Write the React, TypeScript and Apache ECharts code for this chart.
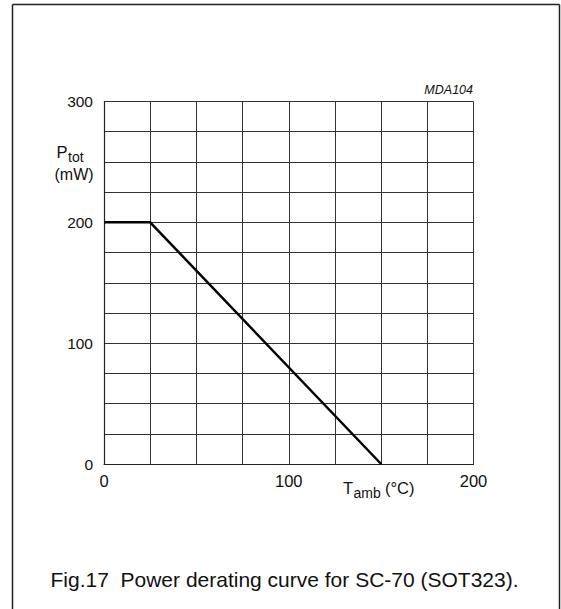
import React, { useEffect, useRef } from "react";
import * as echarts from "echarts";

const tempC = [0, 25, 150];
const powerMW = [200, 200, 0];
const xTickLabels = [0, 100, 200];
const yTickLabels = [0, 100, 200, 300];

export default function App() {
  const ref = useRef<HTMLDivElement>(null);
  useEffect(() => {
    document.body.style.margin = "0";
    const chart = echarts.init(ref.current!, null, { renderer: "svg" });
    const font = "'Liberation Sans', Arial, Helvetica, sans-serif";
    const lineStyle = { stroke: "#222", lineWidth: 1.5 };
    const txt = (text: string, x: number, y: number, size: number, extra: any = {}) => ({
      type: "text",
      x,
      y,
      style: { text, fontSize: size, fontFamily: font, fill: "#111", verticalAlign: "top", ...extra },
    });
    chart.setOption({
      animation: false,
      backgroundColor: "#fff",
      grid: { left: 104, top: 101.5, right: 87.5, bottom: 145, containLabel: false },
      xAxis: {
        type: "value",
        min: 0,
        max: 200,
        interval: 25,
        axisLine: { show: true, lineStyle: { color: "#222", width: 1.2 } },
        axisTick: { show: false },
        splitLine: { show: true, lineStyle: { color: "#333", width: 1 } },
        axisLabel: {
          margin: 8,
          fontSize: 16.5,
          color: "#111",
          fontFamily: font,
          formatter: (v: number) => (xTickLabels.includes(v) ? String(v) : ""),
        },
      },
      yAxis: {
        type: "value",
        min: 0,
        max: 300,
        interval: 25,
        axisLine: { show: true, lineStyle: { color: "#222", width: 1.2 } },
        axisTick: { show: false },
        splitLine: { show: true, lineStyle: { color: "#333", width: 1 } },
        axisLabel: {
          margin: 11,
          fontSize: 15.5,
          color: "#111",
          fontFamily: font,
          formatter: (v: number) => (yTickLabels.includes(v) ? String(v) : ""),
        },
      },
      series: [
        {
          type: "line",
          data: tempC.map((t, i) => [t, powerMW[i]]),
          symbol: "none",
          lineStyle: { color: "#000", width: 2.5 },
        },
      ],
      graphic: [
        { type: "line", shape: { x1: 12.5, y1: 4.5, x2: 559.5, y2: 4.5 }, style: lineStyle },
        { type: "line", shape: { x1: 12.5, y1: 4.5, x2: 12.5, y2: 609 }, style: lineStyle },
        { type: "line", shape: { x1: 559.5, y1: 4.5, x2: 559.5, y2: 609 }, style: lineStyle },
        txt("MDA104", 473, 83, 12.5, { fontStyle: "italic", align: "right" }),
        txt("P", 56.5, 143, 16.5),
        txt("tot", 68, 150, 14),
        txt("(mW)", 54.5, 166, 16),
        txt("T", 343, 479, 16.5),
        txt("amb", 353.5, 486, 14),
        txt("(°C)", 385, 479, 16.5),
        txt("Fig.17  Power derating curve for SC-70 (SOT323).", 284.5, 569, 21, { align: "center" }),
      ],
    });
    return () => chart.dispose();
  }, []);
  return (
    <div
      ref={ref}
      style={{ position: "absolute", left: 0, top: 0, width: 561, height: 609 }}
    />
  );
}
